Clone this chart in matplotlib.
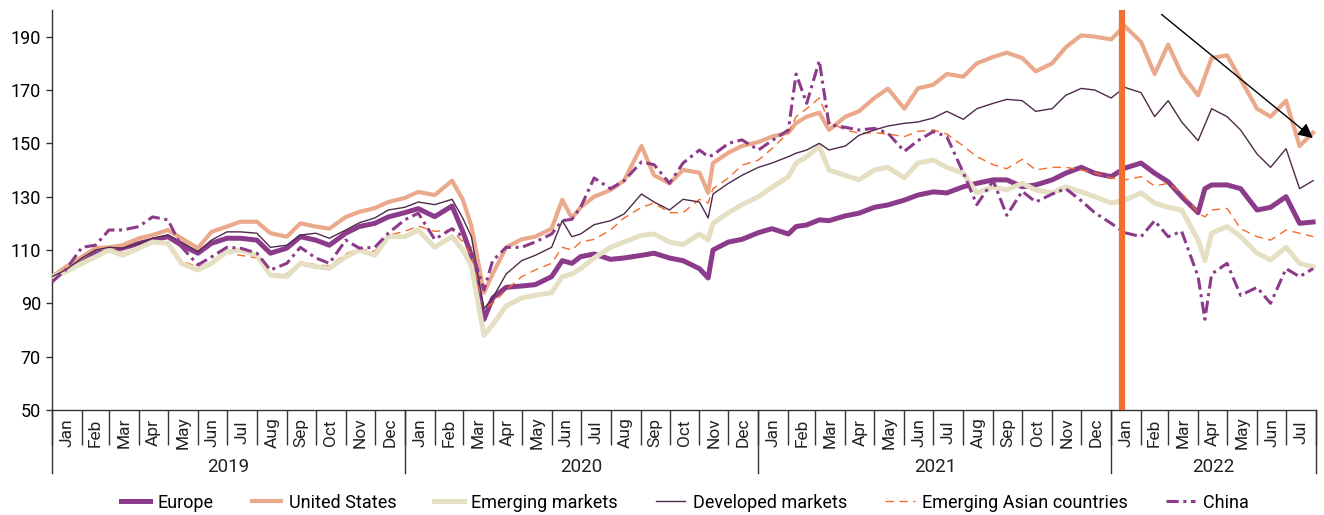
import matplotlib
matplotlib.use('Agg')
import matplotlib.pyplot as plt
import matplotlib.dates as mdates
import pandas as pd

# sample dates (roughly twice a month, extra points at turning points)
dates = [
    '2019-01-01', '2019-01-15', '2019-02-01', '2019-02-15', '2019-03-01', '2019-03-15',
    '2019-04-01', '2019-04-15', '2019-05-01', '2019-05-15', '2019-06-01', '2019-06-15',
    '2019-07-01', '2019-07-15', '2019-08-01', '2019-08-15', '2019-09-01', '2019-09-15',
    '2019-10-01', '2019-10-15', '2019-11-01', '2019-11-15', '2019-12-01', '2019-12-15',
    '2020-01-01', '2020-01-15', '2020-02-01', '2020-02-19', '2020-03-01', '2020-03-10',
    '2020-03-23', '2020-04-01', '2020-04-15', '2020-05-01', '2020-05-15', '2020-06-01',
    '2020-06-12', '2020-06-22', '2020-07-01', '2020-07-15', '2020-08-01', '2020-08-15',
    '2020-09-02', '2020-09-15', '2020-10-01', '2020-10-15', '2020-11-01', '2020-11-10',
    '2020-11-15', '2020-12-01', '2020-12-15',
    '2021-01-01', '2021-01-15', '2021-02-01', '2021-02-09', '2021-02-20', '2021-03-05',
    '2021-03-15', '2021-04-01', '2021-04-15', '2021-05-01', '2021-05-15', '2021-06-01',
    '2021-06-15', '2021-07-01', '2021-07-15', '2021-08-01', '2021-08-15', '2021-09-01',
    '2021-09-15', '2021-10-01', '2021-10-15', '2021-11-01', '2021-11-15', '2021-12-01',
    '2021-12-15',
    '2022-01-01', '2022-01-15', '2022-02-01', '2022-02-15', '2022-03-01', '2022-03-15',
    '2022-04-01', '2022-04-08', '2022-04-15', '2022-05-01', '2022-05-15', '2022-06-01',
    '2022-06-15', '2022-07-01', '2022-07-15', '2022-07-29',
]

europe = [
    100, 102.5, 105.5, 108.8, 110, 110.7, 112.5, 113.7, 115, 111.8, 108.8, 112.5,
    114.4, 114.4, 113.7, 108.8, 110.7, 115, 113.7, 111.8, 116.3, 118.8, 120, 122.4,
    124, 125.5, 122.5, 126.5, 117, 108, 84, 92, 96, 96.5, 97, 100,
    106, 105, 107.5, 108.5, 106.5, 107, 108, 108.8, 107, 106, 103, 99.5,
    110, 113, 114,
    116.5, 118, 116, 118.8, 119.4, 121.3, 121, 122.8, 123.8, 126, 126.9, 128.7,
    130.6, 131.8, 131.4, 133.7, 135, 136.3, 136.3, 133.7, 134.4, 136.3, 138.8, 141,
    138.8,
    137.5, 140.7, 142.6, 138.8, 135.6, 130, 124, 133, 134.4, 134.4, 133, 125,
    126, 130, 120, 120.5,
]
united_states = [
    100, 103.6, 107.4, 110.7, 111, 111.8, 114.4, 115.6, 117.5, 114.4, 110.7, 116.8,
    118.8, 120.6, 120.6, 116.3, 115, 120, 118.8, 118, 122.4, 124.3, 125.7, 128,
    129.5, 131.8, 130.6, 136, 129, 119, 94, 101, 111, 114, 115, 118,
    128.8, 122, 126, 130, 132.5, 136, 149, 138, 135, 140, 139, 131.4,
    142.6, 146.5, 149,
    150.5, 152.5, 154, 157.6, 160, 161.5, 155, 160, 162, 167, 170.5, 163,
    170.6, 172, 176, 175, 180, 182.4, 184, 182, 177, 180, 186, 190.5,
    190,
    189, 194, 188, 176, 187, 176, 168, 175, 182, 183, 174, 163,
    160, 166, 149, 154,
]
emerging = [
    100, 101.8, 105, 107.4, 110, 108, 110.7, 113, 112.5, 105, 102.5, 105,
    109.3, 110, 108, 100.6, 100, 105, 103.7, 103.1, 107.4, 110, 108, 115,
    115, 117.5, 111, 115, 110, 104, 78, 82, 89, 92, 93, 94,
    100, 101, 103, 107, 111, 113, 115.5, 116, 113, 112, 116, 113.8,
    120, 124, 127,
    130, 133.5, 137.5, 142.6, 145, 148.8, 140, 138, 136.3, 140, 141, 137,
    142.6, 143.7, 141, 138.8, 131.4, 133.7, 132.5, 135, 132.5, 131.4, 133.7, 131.8,
    130,
    127.6, 128.7, 131.4, 127.6, 126, 125, 113.7, 106, 116.3, 118.8, 115, 108.8,
    106.3, 111, 105, 103.7,
]
developed = [
    100, 102.5, 107, 110, 111, 110.7, 112.5, 114.4, 115.6, 113, 109.3, 113.7,
    116.8, 116.8, 116.3, 111, 111.8, 115.6, 116.3, 114.4, 117.5, 120.2, 122, 125,
    126, 128, 127, 129, 122, 115, 88, 92, 101, 106, 108, 111,
    121, 115, 116, 119.5, 121, 123.5, 131, 128, 125, 129, 128, 122,
    131, 135, 138,
    141, 142.6, 145, 146.3, 147.5, 150, 147.5, 149, 153, 155, 156.5, 157.5,
    158, 159.5, 162, 159, 163, 165, 166.5, 166, 162, 163, 168, 170.6,
    170,
    167, 171, 169, 160, 166, 158, 151, 157, 163, 160, 155, 146,
    141, 148, 133, 136,
]
emerging_asia = [
    100, 102, 105, 107.5, 110, 109, 111, 113.5, 113, 106, 103.5, 105.5,
    109, 108, 107, 101, 101, 105.5, 104.5, 104, 108.5, 110.5, 109.5, 115.5,
    117, 119, 117, 117.5, 113, 108, 88, 90, 95, 100, 102.5, 105,
    111, 110, 113, 114, 117.5, 122, 126, 127.6, 124, 124, 129, 127.6,
    133, 137, 141.8,
    143.7, 148, 154, 160, 163, 167, 158, 155, 153.8, 154, 153.5, 152.5,
    154.5, 155, 153.5, 149, 145, 142, 140.5, 144, 140, 141, 141, 140,
    139,
    137, 136.3, 137.5, 134, 135, 131.4, 124, 122.4, 125, 125.6, 118, 115,
    113.7, 117.5, 116.3, 115,
]
china = [
    98, 102.5, 111, 111.8, 117.5, 117.5, 118.8, 122.4, 121.3, 111.2, 104.4, 107.4,
    111, 110.7, 108.8, 102.5, 105, 111, 107, 105, 113.7, 110.7, 111, 116.3,
    121.3, 123.8, 114, 118, 115, 110, 95, 106, 111, 111, 113, 116,
    121, 121.5, 126, 137, 133, 136, 143, 142, 135, 142.6, 147.5, 145,
    145.6, 150, 151.3,
    147.5, 151, 155, 176, 165, 181, 157, 156, 155, 155.6, 153.8, 147,
    151, 154.4, 152.5, 139, 127, 136, 123, 132, 128, 131, 133, 128.5,
    124,
    120, 116.5, 115, 121, 115, 117, 100, 84, 101, 105, 93, 96,
    90, 103, 100, 103,
]

years = ['2019', '2020', '2021', '2022']
event_date = '2022-01-12'
arrow_start = ('2022-02-20', 199)
arrow_end = ('2022-07-31', 151.3)

plt.rcParams['font.family'] = ['Roboto', 'DejaVu Sans']

x = pd.to_datetime(dates)

fig = plt.figure(figsize=(13.24, 5.15), dpi=100)
ax = fig.add_axes([52 / 1324, 105 / 515, 1264 / 1324, 400 / 515])

ax.plot(x, europe, color='#8c3b8b', lw=3.6, label='Europe', zorder=3)
ax.plot(x, united_states, color='#eba98c', lw=3.0, label='United States', zorder=4)
ax.plot(x, emerging_asia, color='#f26b2b', lw=1.0, dashes=(6, 4),
        label='Emerging Asian countries', zorder=4.5)
ax.plot(x, emerging, color='#e5e0c4', lw=3.6, label='Emerging markets', zorder=5)
ax.plot(x, developed, color='#4e2a4a', lw=1.0, label='Developed markets', zorder=6)
ax.plot(x, china, color='#8c3b8b', lw=2.2, dashes=(4, 1.5, 1, 1.5),
        label='China', zorder=7)

ax.axvline(pd.Timestamp(event_date), color='#f36f2f', lw=4.5, zorder=10)
ax.annotate('', xy=(mdates.date2num(pd.Timestamp(arrow_end[0])), arrow_end[1]),
            xytext=(mdates.date2num(pd.Timestamp(arrow_start[0])), arrow_start[1]),
            arrowprops=dict(arrowstyle='-|>', color='black', lw=1, mutation_scale=22),
            annotation_clip=False, zorder=11)

start, end = pd.Timestamp('2019-01-01'), pd.Timestamp('2022-08-01')
ax.set_xlim(start, end)
ax.set_ylim(50, 200)
ax.set_yticks(range(50, 191, 20))

for side in ['top', 'right']:
    ax.spines[side].set_visible(False)
for side in ['left', 'bottom']:
    ax.spines[side].set_color('#333333')
    ax.spines[side].set_linewidth(1)

ax.tick_params(axis='y', direction='out', length=4, width=1, color='#333333',
               labelsize=13, pad=4)
ax.xaxis.set_major_locator(mdates.MonthLocator())
ax.tick_params(axis='x', which='major', direction='out', length=25, width=1,
               color='#333333', labelbottom=False)

# month names centred in each month, year names under them
trans = ax.get_xaxis_transform()
for m in pd.date_range(start, end - pd.Timedelta(days=1), freq='MS'):
    mid = m + (m + pd.offsets.MonthBegin(1) - m) / 2
    ax.text(mdates.date2num(mid), -0.056, m.strftime('%b'), transform=trans,
            rotation=90, ha='center', va='center', fontsize=12.5, color='#222222')

bounds = [pd.Timestamp(y + '-01-01') for y in years] + [end]
for b in bounds:
    ax.plot([mdates.date2num(b)] * 2, [0, -0.157], transform=trans, clip_on=False,
            color='#333333', lw=1)
for i, y in enumerate(years):
    mid = bounds[i] + (bounds[i + 1] - bounds[i]) / 2
    ax.text(mdates.date2num(mid), -0.142, y, transform=trans, ha='center',
            va='center', fontsize=13.5, color='#222222')

handles, labels = ax.get_legend_handles_labels()
order = ['Europe', 'United States', 'Emerging markets', 'Developed markets',
         'Emerging Asian countries', 'China']
hs = [handles[labels.index(o)] for o in order]
fig.legend(hs, order, loc='center', bbox_to_anchor=(0.517, 0.024), ncol=6,
           frameon=False, fontsize=13, handlelength=1.65, handletextpad=0.4,
           columnspacing=2.1)

fig.savefig('out.png', dpi=100)
